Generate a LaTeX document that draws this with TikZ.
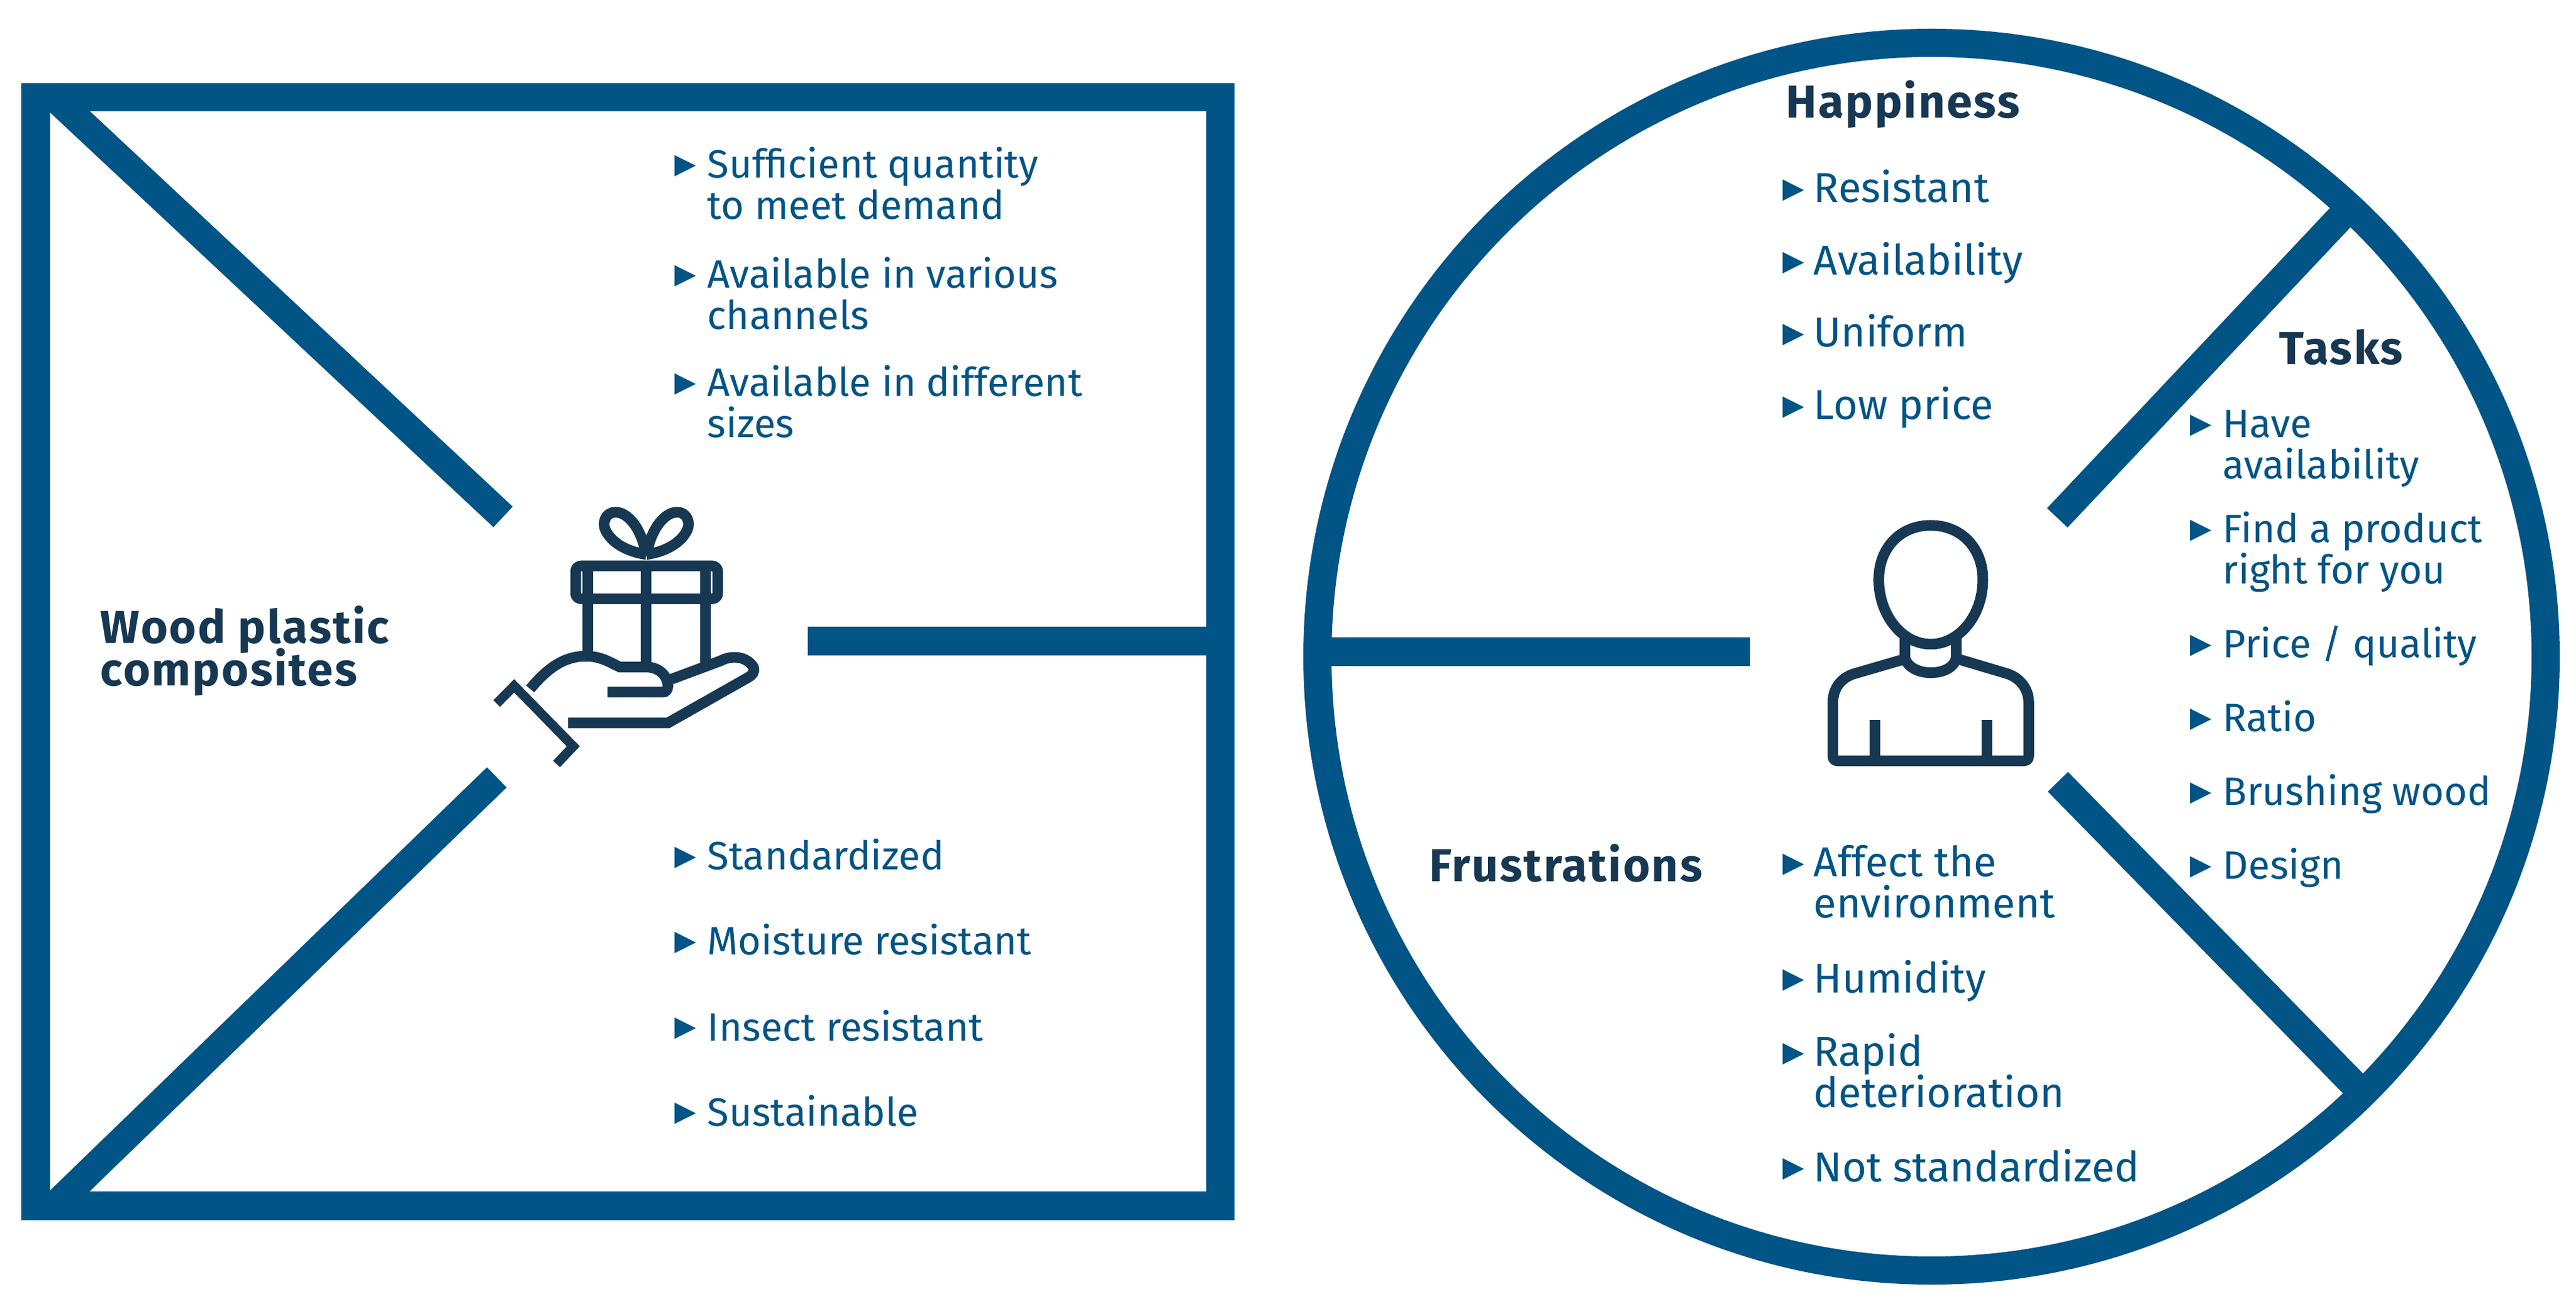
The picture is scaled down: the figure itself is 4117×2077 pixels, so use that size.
\documentclass[tikz,border=0pt]{standalone}
\usepackage{fontspec}
\setmainfont{Fira Sans}
\newfontfamily\headfam[LetterSpace=3.5]{Fira Sans}
\definecolor{frameblue}{HTML}{005486}
\definecolor{darkicon}{HTML}{163853}
\newcommand{\bodyfont}{\fontsize{18pt}{18.4pt}\selectfont}
\newcommand{\bigbodyfont}{\fontsize{19pt}{18.4pt}\selectfont}
\newcommand{\headfont}{\headfam\fontsize{21pt}{19.3pt}\selectfont\bfseries}
\newcommand{\twolines}[2]{\vtop{\baselineskip=0.65cm\lineskiplimit=-10pt\hbox{#1}\hbox{#2}}}
\tikzset{
  framestroke/.style={draw=frameblue,line width=0.45cm,line cap=butt,miter limit=10},
  iconstroke/.style={draw=darkicon,line width=0.17cm,line join=round},
  itemtext/.style={anchor=base west,inner sep=0pt,text=frameblue,font=\bodyfont},
  bigitem/.style={font=\bigbodyfont},
  headtext/.style={anchor=base west,inner sep=0pt,text=darkicon,font=\headfont},
  bullettri/.pic={\fill[frameblue] (-17,-17) -- (17,0) -- (-17,17) -- cycle;}
}
\newcommand{\bitem}[4]{% name, bullet-centre x, bullet-centre y, text
  \pic at (#2+17,#3) {bullettri};
  \node[itemtext] (#1) at (#2+52,#3+20) {#4};
}
\newcommand{\bigitemnode}[4]{%
  \pic at (#2+17,#3+2) {bullettri};
  \node[itemtext,bigitem] (#1) at (#2+49,#3+22) {#4};
}
\begin{document}
\begin{tikzpicture}[x=0.01cm,y=-0.01cm]
\useasboundingbox (0,0) rectangle (4117,2077);
% square frame
\coordinate (sqTL) at (57,155.5);
\coordinate (sqBL) at (57,1928);
\coordinate (sqTR) at (1950.5,155.5);
\coordinate (sqBR) at (1950.5,1928);
\draw[framestroke] (sqTL) -- (sqTR) -- (sqBR) -- (sqBL) -- cycle;
\coordinate (d1s) at (80,149);
\coordinate (d1e) at (804,826.5);
\coordinate (d2s) at (85,1930);
\coordinate (d2e) at (794,1243);
\coordinate (h1s) at (1291,1025);
\coordinate (h1e) at (1950,1025);
\draw[framestroke] (d1s) -- (d1e);
\draw[framestroke] (d2s) -- (d2e);
\draw[framestroke] (h1s) -- (h1e);
% circle
\coordinate (cc) at (3087,1050);
\draw[framestroke] (cc) circle (981.5);
\coordinate (cl1) at (2105,1042);
\coordinate (cl2) at (2797,1042);
\coordinate (cu1) at (3758,329);
\coordinate (cu2) at (3288,828);
\coordinate (cd1) at (3772,1744);
\coordinate (cd2) at (3289,1250);
\draw[framestroke] (cl1) -- (cl2);
\draw[framestroke] (cu1) -- (cu2);
\draw[framestroke] (cd1) -- (cd2);
% gift icon
\begin{scope}[shift={(700,750)},xscale=0.3827,yscale=0.3333]
\draw[iconstroke,rounded corners=2.4pt] (575,465) rectangle (1168,622);
\draw[iconstroke] (625,465) -- (625,905);
\draw[iconstroke] (870,465) -- (870,950);
\draw[iconstroke] (1118,465) -- (1118,930);
\draw[iconstroke] (870,415) .. controls (850,280) and (790,205) .. (740,207)
  .. controls (700,207) and (680,260) .. (705,305) .. controls (740,370) and (810,400) .. (870,410);
\draw[iconstroke] (870,415) .. controls (890,280) and (950,205) .. (1000,207)
  .. controls (1040,207) and (1060,260) .. (1035,305) .. controls (1000,370) and (930,400) .. (870,410);
\draw[iconstroke,line join=miter] (385,1055) .. controls (460,950) and (530,900) .. (610,898)
  .. controls (680,895) and (720,930) .. (760,950) -- (870,950)
  .. controls (930,950) and (960,1000) .. (960,1040) .. controls (960,1060) and (950,1070) .. (940,1070) -- (708,1070);
\draw[iconstroke,line join=miter] (975,1008) -- (1180,920) .. controls (1230,890) and (1290,900) .. (1317,950)
  .. controls (1325,975) and (1310,990) .. (1295,1000) -- (960,1218) -- (543,1218);
\draw[draw=darkicon,line width=0.15cm,line join=miter] (245,1125) -- (318,1040) -- (565,1330) -- (495,1415);
\end{scope}
% person icon
\begin{scope}[shift={(2850,780)},scale=0.3333]
\draw[iconstroke] (707,180) .. controls (560,180) and (458,290) .. (458,440)
  .. controls (458,610) and (570,750) .. (707,750)
  .. controls (845,750) and (957,610) .. (957,440)
  .. controls (957,290) and (855,180) .. (707,180) -- cycle;
\draw[iconstroke] (583,715) -- (583,810) .. controls (590,860) and (650,887) .. (707,887)
  .. controls (770,887) and (825,860) .. (830,810) -- (830,715);
\draw[iconstroke,line join=round] (570,825) -- (340,892) .. controls (280,910) and (238,960) .. (238,1030) -- (238,1285)
  .. controls (238,1300) and (245,1310) .. (262,1310) -- (1150,1310)
  .. controls (1170,1310) and (1177,1300) .. (1177,1285) -- (1177,1030)
  .. controls (1177,960) and (1130,910) .. (1075,892) -- (850,825);
\draw[iconstroke] (438,1112) -- (438,1310);
\draw[iconstroke] (976,1112) -- (976,1310);
\end{scope}
% headings
\node[headtext] (hwood) at (160,1029) {Wood plastic};
\node[headtext] (hcomp) at (160,1097) {composites};
\node[headtext] (hhap) at (2854,189) {Happiness};
\node[headtext] (htask) at (3642,583) {Tasks};
\node[headtext] (hfru) at (2284,1410) {Frustrations};
% left top
\bitem{a1}{1078}{265}{\twolines{Sufficient quantity}{to meet demand}}
\bitem{a2}{1078}{441}{\twolines{Available in various}{channels}}
\bitem{a3}{1078}{614}{\twolines{Available in different}{sizes}}
% left bottom
\bitem{b1}{1078}{1371}{Standardized}
\bitem{b2}{1078}{1507}{Moisture resistant}
\bitem{b3}{1078}{1644}{Insect resistant}
\bitem{b4}{1078}{1780}{Sustainable}
% happiness
\bigitemnode{c1}{2849}{302}{Resistant}
\bigitemnode{c2}{2849}{418}{Availability}
\bigitemnode{c3}{2849}{533}{Uniform}
\bigitemnode{c4}{2849}{649}{Low price}
% tasks
\bitem{t1}{3500}{680}{\twolines{Have}{availability}}
\bitem{t2}{3500}{848}{\twolines{Find a product}{right for you}}
\bitem{t3}{3500}{1032}{Price / quality}
\bitem{t4}{3500}{1150}{Ratio}
\bitem{t5}{3500}{1268}{Brushing wood}
\bitem{t6}{3500}{1386}{Design}
% frustrations
\bigitemnode{f1}{2849}{1380}{\twolines{Affect the}{environment}}
\bigitemnode{f2}{2849}{1565}{Humidity}
\bigitemnode{f3}{2849}{1683}{\twolines{Rapid}{deterioration}}
\bigitemnode{f4}{2849}{1867}{Not standardized}
\end{tikzpicture}
\end{document}
